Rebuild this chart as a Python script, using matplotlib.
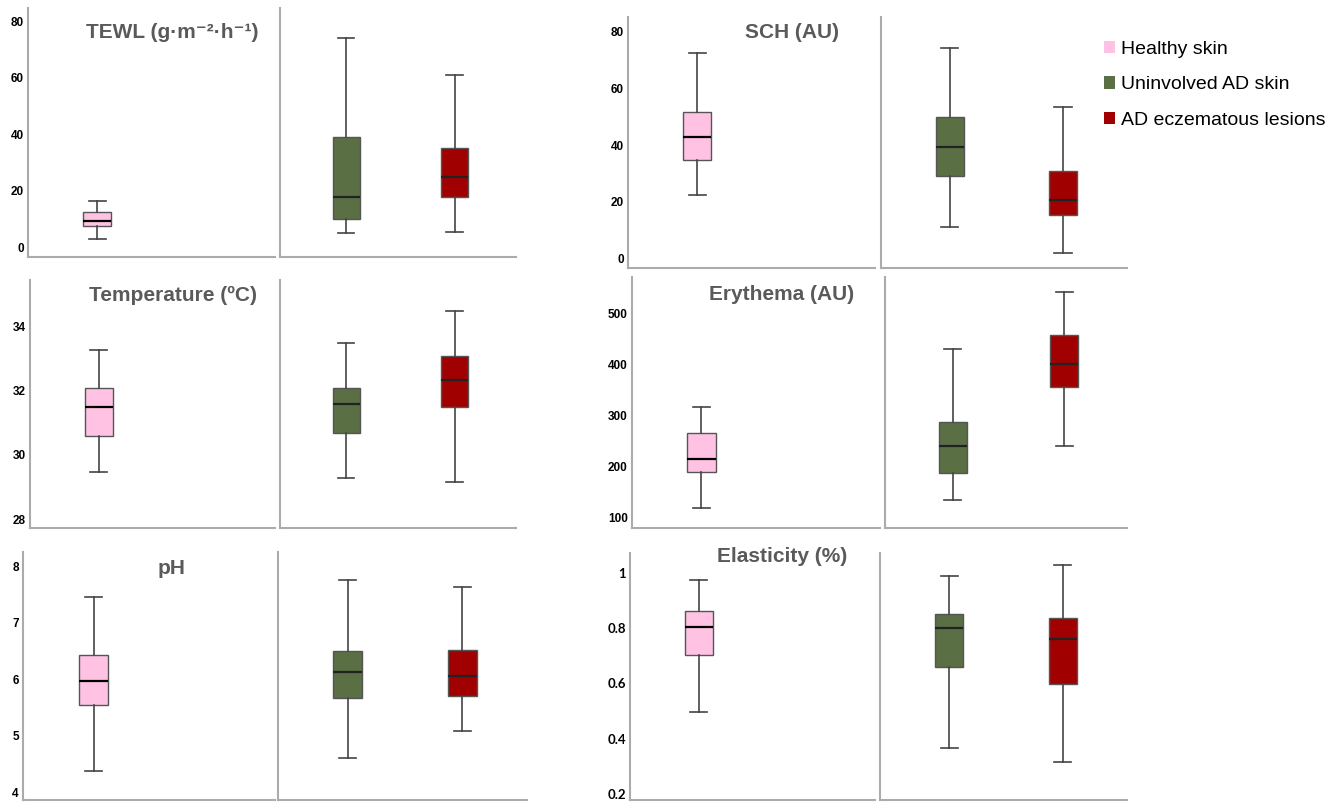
import matplotlib
matplotlib.use("Agg")
import matplotlib.pyplot as plt
from matplotlib.patches import Patch

# five-number summaries, one entry per parameter
params = ["TEWL", "SCH", "Temperature", "Erythema", "pH", "Elasticity"]
titles = ["TEWL (g·m⁻²·h⁻¹)", "SCH (AU)", "Temperature (ºC)",
          "Erythema (AU)", "pH", "Elasticity (%)"]

healthy_lo = [2.9, 22.5, 29.48, 117.6, 4.37, 0.497]
healthy_q1 = [7.5, 34.7, 30.59, 189.4, 5.54, 0.704]
healthy_med = [9.2, 42.7, 31.49, 214.9, 5.96, 0.804]
healthy_q3 = [12.3, 51.7, 32.08, 265.8, 6.43, 0.861]
healthy_hi = [16.3, 72.7, 33.26, 317.0, 7.46, 0.975]

uninv_lo = [5.1, 11.1, 29.28, 135.0, 4.60, 0.367]
uninv_q1 = [9.8, 28.9, 30.68, 187.0, 5.66, 0.660]
uninv_med = [17.8, 39.2, 31.58, 240.0, 6.12, 0.800]
uninv_q3 = [39.0, 49.9, 32.08, 287.0, 6.50, 0.853]
uninv_hi = [73.9, 74.2, 33.48, 430.0, 7.75, 0.990]

ad_lo = [5.3, 1.8, 29.16, 240.0, 5.08, 0.315]
ad_q1 = [17.7, 15.2, 31.49, 355.0, 5.70, 0.598]
ad_med = [24.8, 20.5, 32.33, 400.0, 6.05, 0.761]
ad_q3 = [35.0, 30.8, 33.07, 457.0, 6.51, 0.835]
ad_hi = [61.0, 53.5, 34.47, 541.5, 7.63, 1.030]

yticks = [[0, 20, 40, 60, 80], [0, 20, 40, 60, 80], [28, 30, 32, 34],
          [100, 200, 300, 400, 500], [4, 5, 6, 7, 8], [0.2, 0.4, 0.6, 0.8, 1]]
ytick_labels = [["0", "20", "40", "60", "80"], ["0", "20", "40", "60", "80"],
                ["28", "30", "32", "34"], ["100", "200", "300", "400", "500"],
                ["4", "5", "6", "7", "8"], ["0.2", "0.4", "0.6", "0.8", "1"]]

groups = ["Healthy skin", "Uninvolved AD skin", "AD eczematous lesions"]
colors = ["#ffc2e2", "#5b6f45", "#a00000"]

# panel layout in pixels: left sub x0, x1, right sub x0, x1, top, bottom, ylim
W, H = 1333, 802
layout = [
    (28, 275, 280, 516, 8, 257, (-3.5, 84.6)),
    (628, 875, 881, 1127, 17, 268, (-3.5, 85.3)),
    (30, 275, 280, 516, 280, 528, (27.73, 35.44)),
    (632, 880, 885, 1127, 277, 528, (79.3, 571)),
    (23, 275, 278, 527, 552, 800, (3.86, 8.25)),
    (630, 875, 880, 1127, 553, 800, (0.178, 1.072)),
]
title_pos = [(172, 33), (792, 33), (173, 295), (782, 295), (172, 569), (782, 557)]

fig = plt.figure(figsize=(W / 100, H / 100), dpi=100)


def add_ax(x0, x1, top, bot):
    return fig.add_axes([x0 / W, 1 - bot / H, (x1 - x0) / W, (bot - top) / H])


def style(ax, ylim):
    for s in ["top", "right"]:
        ax.spines[s].set_visible(False)
    for s in ["left", "bottom"]:
        ax.spines[s].set_color("#ababab")
        ax.spines[s].set_linewidth(1.5)
    ax.set_xlim(0, 1)
    ax.set_ylim(*ylim)
    ax.set_xticks([])
    ax.tick_params(axis="y", length=0, pad=3)


def stats(i, lo, q1, med, q3, hi):
    return {"whislo": lo[i], "q1": q1[i], "med": med[i], "q3": q3[i],
            "whishi": hi[i], "fliers": []}


def draw(ax, st, pos, color, medcol):
    ax.bxp([st], positions=[pos], widths=0.115, patch_artist=True,
           showfliers=False, manage_ticks=False,
           boxprops=dict(facecolor=color, edgecolor="#555555", linewidth=1),
           medianprops=dict(color=medcol, linewidth=1.6),
           whiskerprops=dict(color="#444444", linewidth=1.2),
           capprops=dict(color="#444444", linewidth=1.2),
           capwidths=0.07)


for i in range(len(params)):
    lx0, lx1, rx0, rx1, top, bot, ylim = layout[i]
    axl = add_ax(lx0, lx1, top, bot)
    axr = add_ax(rx0, rx1, top, bot)
    style(axl, ylim)
    style(axr, ylim)
    axl.set_yticks(yticks[i])
    if params[i] == "Elasticity":
        axl.set_yticklabels(ytick_labels[i], fontsize=9.5, fontweight="bold",
                            family="Lato")
    else:
        axl.set_yticklabels(ytick_labels[i], fontsize=8.5, fontweight="bold",
                            family="Liberation Sans")
    axr.set_yticks([])

    draw(axl, stats(i, healthy_lo, healthy_q1, healthy_med, healthy_q3, healthy_hi),
         0.28, colors[0], "black")
    draw(axr, stats(i, uninv_lo, uninv_q1, uninv_med, uninv_q3, uninv_hi),
         0.28, colors[1], "#222222")
    draw(axr, stats(i, ad_lo, ad_q1, ad_med, ad_q3, ad_hi),
         0.74, colors[2], "#222222")

    tx, ty = title_pos[i]
    fig.text(tx / W, 1 - ty / H, titles[i], ha="center", va="center",
             fontsize=15, fontweight="bold", color="#5a5a5a",
             family=["Liberation Sans", "DejaVu Sans"])

handles = [Patch(facecolor=c, edgecolor="none") for c in colors]
fig.legend(handles, groups, loc="upper left", bbox_to_anchor=(1096 / W, 1 - 33 / H),
           frameon=False, handlelength=0.6, handleheight=0.6,
           handletextpad=0.3, labelspacing=0.95, borderaxespad=0,
           prop={"family": "Liberation Sans", "size": 14})

fig.savefig("out.png", dpi=100)
